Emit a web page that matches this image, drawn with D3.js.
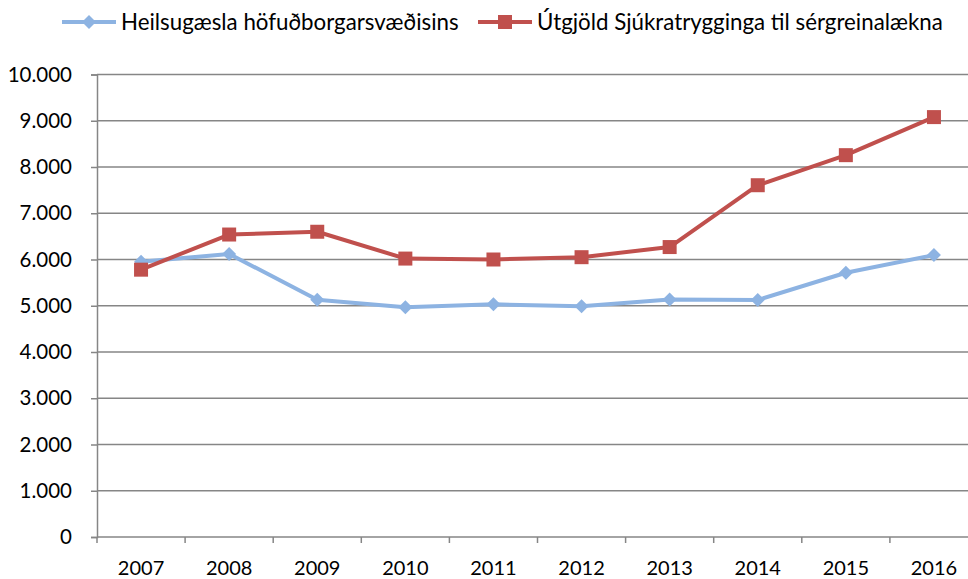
<!DOCTYPE html>
<html>
<head>
<meta charset="utf-8">
<script src="https://cdn.jsdelivr.net/npm/d3@7"></script>
<style>
  html, body { margin: 0; padding: 0; background: #fff; overflow: hidden; }
  svg { display: block; font-family: Lato, "Open Sans", sans-serif; }
</style>
</head>
<body>
<div id="chart"></div>
<script>
const years = ['2007', '2008', '2009', '2010', '2011', '2012', '2013', '2014', '2015', '2016'];
const heilsugaesla = [5950, 6120, 5130, 4970, 5030, 4990, 5135, 5125, 5713, 6095];
const sjukratryggingar = [5780, 6540, 6600, 6020, 6000, 6050, 6269, 7606, 8256, 9079];
const yTicks = [0, 1000, 2000, 3000, 4000, 5000, 6000, 7000, 8000, 9000, 10000];

const seriesNames = ['Heilsugæsla höfuðborgarsvæðisins', 'Útgjöld Sjúkratrygginga til sérgreinalækna'];
const seriesColors = ['#8DB3E2', '#C0504D'];

const width = 968;
const height = 579;
const plotLeft = 97;
const plotRight = 978; // plot runs past the visible edge, as in the source
const plotTop = 74.5;
const plotBottom = 537;

const locale = d3.formatLocale({ decimal: ',', thousands: '.', grouping: [3], currency: ['', ''] });
const fmt = locale.format(',');

const svg = d3.select('#chart')
    .append('svg')
    .attr('width', width)
    .attr('height', height);

const x = d3.scaleBand()
    .domain(years)
    .range([plotLeft, plotRight]);

const y = d3.scaleLinear()
    .domain([0, 10000])
    .range([plotBottom, plotTop]);

// horizontal gridlines
svg.append('g')
    .selectAll('line')
    .data(yTicks.filter(d => d > 0))
    .join('line')
    .attr('x1', plotLeft)
    .attr('x2', plotRight)
    .attr('y1', d => y(d))
    .attr('y2', d => y(d))
    .attr('stroke', '#868686')
    .attr('stroke-width', 1.5);

// y axis
const yAxis = svg.append('g')
    .attr('transform', `translate(${plotLeft},0)`)
    .call(d3.axisLeft(y).tickValues(yTicks).tickFormat(fmt).tickSize(6).tickPadding(19));
yAxis.select('.domain').attr('stroke', '#868686').attr('stroke-width', 1.5);
yAxis.selectAll('.tick line').attr('stroke', '#868686').attr('stroke-width', 1.5);
yAxis.selectAll('text')
    .attr('font-size', 20.5)
    .attr('fill', '#000')
    .attr('font-family', 'Lato, sans-serif');

// x axis: ticks sit on the category boundaries
const xAxis = svg.append('g')
    .attr('transform', `translate(0,${plotBottom})`);
xAxis.append('line')
    .attr('x1', plotLeft)
    .attr('x2', plotRight)
    .attr('stroke', '#868686')
    .attr('stroke-width', 1.5);
xAxis.selectAll('.bt')
    .data(years)
    .join('line')
    .attr('class', 'bt')
    .attr('x1', d => x(d))
    .attr('x2', d => x(d))
    .attr('y1', 0)
    .attr('y2', 6)
    .attr('stroke', '#868686')
    .attr('stroke-width', 1.5);
xAxis.selectAll('text')
    .data(years)
    .join('text')
    .attr('x', d => x(d) + x.bandwidth() / 2)
    .attr('y', 38)
    .attr('text-anchor', 'middle')
    .attr('font-size', 20)
    .attr('fill', '#000')
    .text(d => d);

const cx = d => x(d) + x.bandwidth() / 2;
const line = d3.line()
    .x((d, i) => cx(years[i]))
    .y(d => y(d));

const diamond = d3.symbol().type(d3.symbolSquare).size(98);
const square = d3.symbol().type(d3.symbolSquare).size(196);

function drawSeries(values, color, marker, rotate) {
    const g = svg.append('g');
    g.append('path')
        .datum(values)
        .attr('d', line)
        .attr('fill', 'none')
        .attr('stroke', color)
        .attr('stroke-width', 4)
        .attr('stroke-linejoin', 'round');
    g.selectAll('path.m')
        .data(values)
        .join('path')
        .attr('class', 'm')
        .attr('d', marker)
        .attr('transform', (d, i) => `translate(${cx(years[i])},${y(d)}) rotate(${rotate})`)
        .attr('fill', color);
}

drawSeries(heilsugaesla, seriesColors[0], diamond, 45);
drawSeries(sjukratryggingar, seriesColors[1], square, 0);

// legend
const legendItems = [
    { name: seriesNames[0], color: seriesColors[0], x: 62, marker: diamond, rotate: 45 },
    { name: seriesNames[1], color: seriesColors[1], x: 478, marker: square, rotate: 0 }
];
const legend = svg.append('g');
const ly = 22;
legendItems.forEach(item => {
    legend.append('line')
        .attr('x1', item.x)
        .attr('x2', item.x + 54)
        .attr('y1', ly)
        .attr('y2', ly)
        .attr('stroke', item.color)
        .attr('stroke-width', 4);
    legend.append('path')
        .attr('d', item.marker)
        .attr('transform', `translate(${item.x + 27},${ly}) rotate(${item.rotate})`)
        .attr('fill', item.color);
    legend.append('text')
        .attr('x', item.x + 59)
        .attr('y', ly)
        .attr('dy', '0.35em')
        .attr('font-size', 22.3)
        .attr('fill', '#000')
        .text(item.name);
});
</script>
</body>
</html>
